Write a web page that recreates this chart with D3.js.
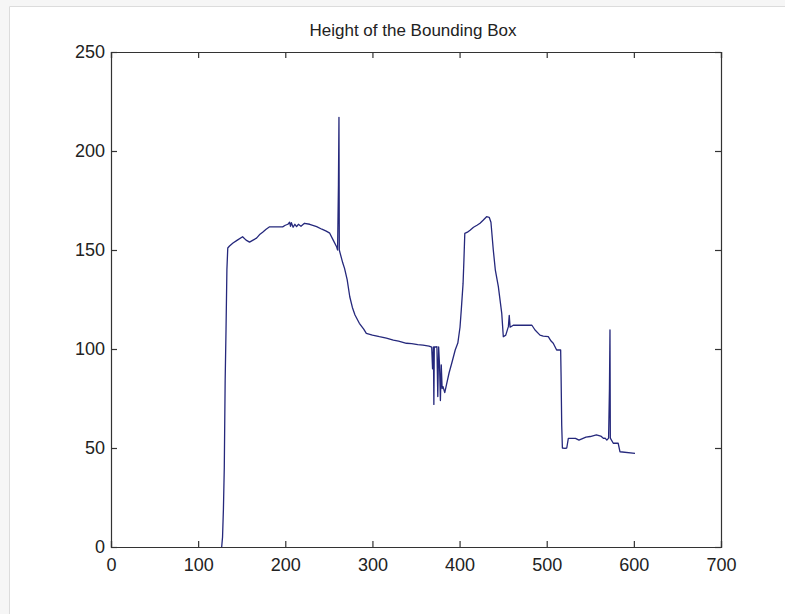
<!DOCTYPE html>
<html>
<head>
<meta charset="utf-8">
<script src="https://cdnjs.cloudflare.com/ajax/libs/d3/7.8.5/d3.min.js"></script>
<style>
  html, body { margin: 0; padding: 0; background: #f6f6f6; }
  svg { display: block; }
  text { font-family: "Liberation Sans Narrow", "Arial Narrow", "Liberation Sans", sans-serif; fill: #222; }
</style>
</head>
<body>
<div id="chart"></div>
<script>
'use strict';

// frame number vs bounding box height
var frames = [127, 128, 129, 130, 131, 132, 133, 134, 136, 140, 145, 151, 155, 159, 163, 167, 171, 174, 178, 182,
    190, 197, 200, 203, 205, 206, 207, 209, 211, 213, 215, 218, 222, 228, 236, 242, 247, 251, 255, 259,
    260, 261, 261.6, 262, 263, 266, 268, 271, 274, 277, 280, 285, 290, 293, 300, 308, 316, 324, 330, 339,
    345, 352, 358, 365, 368, 369, 370, 370.5, 371, 373, 374, 375, 376, 377, 378, 379, 380, 381, 383, 385,
    388, 391, 395, 398, 400.5, 402, 404, 405, 406, 409, 412, 416, 420, 423.5, 427, 431, 434, 436, 438.7, 441,
    444.5, 448.4, 450.2, 453, 456, 457, 458, 461.6, 470, 477, 483, 486.6, 492.3, 496, 501.8, 505, 507.5, 511.4, 516, 516.5,
    517.2, 518, 521, 523, 524.8, 533, 537, 545, 550, 557, 562, 565, 567, 569, 571, 572, 572.6, 573, 576.4, 582,
    584.1, 601.3];
var heights = [0, 5, 19, 40, 84, 110, 140, 151, 152, 153.5, 155, 156.7, 155, 154, 155, 156, 158, 159, 160.5, 161.7,
    161.7, 161.7, 162.5, 163, 164, 162, 163.8, 161.5, 163, 161.8, 163, 162, 163.5, 163, 161.8, 160.5, 159.5, 158.5, 155, 151.5,
    150, 183, 217, 150, 148.3, 143.4, 140.7, 135, 126.4, 121, 117.2, 113, 110, 107.9, 107, 106.2, 105.5, 104.5, 104, 102.9,
    102.7, 102.2, 102, 101.5, 101, 90, 101, 72, 101, 101, 101.2, 76, 101, 92, 74, 92, 80, 81, 78, 82,
    88, 92.8, 99.5, 103, 111, 120, 133, 145, 158.4, 159, 160, 161.5, 162.5, 163.5, 165, 166.8, 166.5, 164, 150, 140,
    131.5, 118, 106.2, 107, 111.3, 117, 111, 112, 112, 112, 112, 109.6, 107, 106.5, 106.2, 104, 102.9, 99.5, 99.5, 86,
    61.6, 50, 49.8, 50, 54.9, 54.9, 54, 55.5, 55.8, 56.6, 56, 54.9, 55, 54, 55, 80, 109.6, 55, 52.4, 52.4,
    48.1, 47.3];

var xTicks = [0, 100, 200, 300, 400, 500, 600, 700];
var yTicks = [0, 50, 100, 150, 200, 250];
var chartTitle = 'Height of the Bounding Box';

var width = 785, height = 614;
var margin = {top: 52, right: 64, bottom: 67, left: 111};

var svg = d3.select('#chart').append('svg')
    .attr('width', width)
    .attr('height', height);

// white figure area with faint frame
svg.append('rect')
    .attr('x', 9).attr('y', 6)
    .attr('width', width - 9).attr('height', height - 6)
    .attr('fill', '#fff');
svg.append('path')
    .attr('d', 'M9.5,' + height + 'V6.5H' + width)
    .attr('fill', 'none')
    .attr('stroke', '#dcdcdc');

var x = d3.scaleLinear().domain([0, 700]).range([margin.left, width - margin.right]);
var y = d3.scaleLinear().domain([0, 250]).range([height - margin.bottom, margin.top]);

var tickLen = 6;
var axisColor = '#333';

// axes with inward ticks on all four sides
var axBottom = svg.append('g')
    .attr('transform', 'translate(0,' + y(0) + ')')
    .call(d3.axisBottom(x).tickValues(xTicks).tickSize(-tickLen).tickPadding(8));
var axTop = svg.append('g')
    .attr('transform', 'translate(0,' + y(250) + ')')
    .call(d3.axisTop(x).tickValues(xTicks).tickSize(-tickLen).tickFormat(''));
var axLeft = svg.append('g')
    .attr('transform', 'translate(' + x(0) + ',0)')
    .call(d3.axisLeft(y).tickValues(yTicks).tickSize(-tickLen).tickPadding(6));
var axRight = svg.append('g')
    .attr('transform', 'translate(' + x(700) + ',0)')
    .call(d3.axisRight(y).tickValues(yTicks).tickSize(-tickLen).tickFormat(''));

[axBottom, axTop, axLeft, axRight].forEach(function(g) {
    g.select('.domain').attr('stroke', axisColor).attr('stroke-width', 1.2);
    g.selectAll('.tick line').attr('stroke', axisColor).attr('stroke-width', 1.2);
    g.selectAll('.tick text')
        .attr('fill', '#222')
        .style('font-family', '"Liberation Sans Narrow", "Arial Narrow", sans-serif')
        .style('font-size', '18px');
});
axBottom.selectAll('.tick text').attr('dy', '0.9em');

var line = d3.line()
    .x(function(d, i) { return x(frames[i]); })
    .y(function(d) { return y(d); });

svg.append('path')
    .datum(heights)
    .attr('fill', 'none')
    .attr('stroke', '#25287c')
    .attr('stroke-width', 1.3)
    .attr('stroke-linejoin', 'round')
    .attr('d', line);

svg.append('text')
    .attr('x', 413)
    .attr('y', 36)
    .attr('text-anchor', 'middle')
    .style('font-size', '17px')
    .text(chartTitle);
</script>
</body>
</html>
